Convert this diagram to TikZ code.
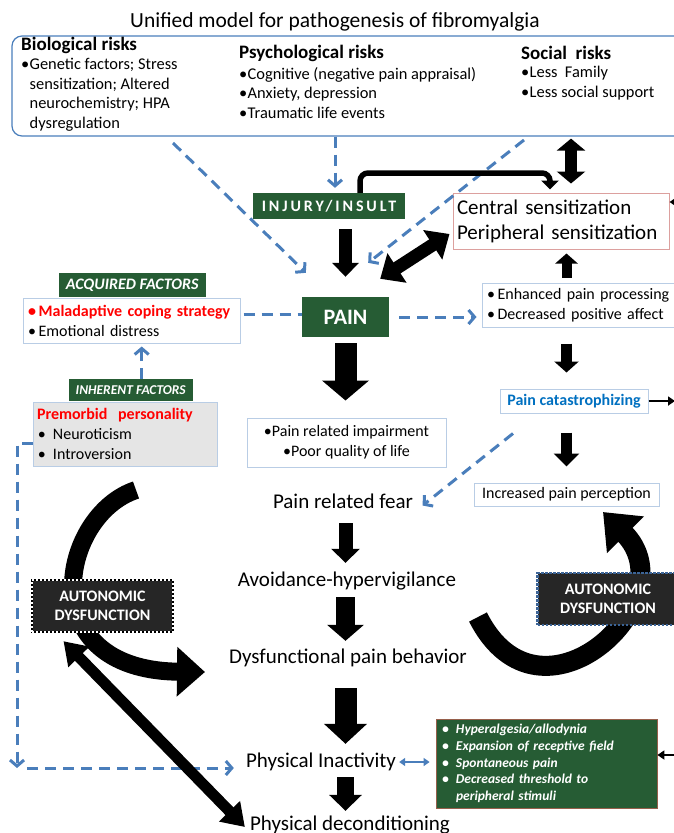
\documentclass[tikz,border=0pt]{standalone}
\usepackage{fontspec}
\setmainfont{Carlito}
\newfontfamily\spacedfont[LetterSpace=18]{Carlito}
\usepackage{tikz}
\usetikzlibrary{arrows.meta, positioning, backgrounds}
\definecolor{dashblue}{RGB}{74,126,187}
\definecolor{boxblue}{RGB}{185,205,229}
\definecolor{pinkline}{RGB}{220,160,158}
\definecolor{greenbg}{RGB}{38,92,52}
\definecolor{darkbg}{RGB}{38,38,38}
\definecolor{autoblue}{RGB}{60,100,150}
\definecolor{catblue}{RGB}{0,112,192}
\definecolor{graybg}{RGB}{229,229,229}
\definecolor{brownline}{RGB}{150,95,75}
\newcommand{\setfs}[2]{\fontsize{#1}{#2}\selectfont}
\newcommand{\bul}{\makebox[8.5pt][l]{\textbullet}}
\tikzstyle{greentag} = [rectangle, fill=greenbg, text=white, inner sep=0pt, text centered]
\tikzstyle{infobox} = [rectangle, draw=boxblue, line width=1pt, fill=white, inner sep=0pt]
\tikzstyle{stage} = [font=\setfs{21}{25}, inner sep=0pt, text height=14pt, text depth=4pt]
\tikzstyle{riskhead} = [anchor=west, inner sep=0pt, font=\bfseries\setfs{19}{22}]
\tikzstyle{risklist} = [anchor=north west, inner sep=0pt, align=left, font=\setfs{16.4}{19.7}]
\tikzstyle{autobox} = [rectangle, fill=darkbg, text=white, font=\bfseries\setfs{16}{19.5}, align=center, minimum width=141pt, minimum height=52pt, line width=2.4pt]
\tikzstyle{dasharrow} = [draw=dashblue, line width=3pt, dash pattern=on 11pt off 7pt, -{Straight Barb[length=6pt, width=14pt]}]
\tikzstyle{dashline} = [draw=dashblue, line width=3pt, dash pattern=on 11pt off 7pt]
\tikzstyle{thinarrow} = [line width=2pt, -{Triangle[length=7pt, width=9pt]}]
\tikzset{blockarrow/.style n args={3}{line width=#1, -{Triangle[width=#2, length=#3]}},
  blockdouble/.style n args={3}{line width=#1, {Triangle[width=#2, length=#3]}-{Triangle[width=#2, length=#3]}}}

\begin{document}
\begin{tikzpicture}[x=1pt, y=-1pt]
    \useasboundingbox (0,0) rectangle (673,833);

    % Title
    \node (title) at (335,22) [font=\setfs{21.5}{25}] {Unified model for pathogenesis of fibromyalgia};

    % Risk factors
    \node (risks) at (356,86) [rectangle, rounded corners=10pt, draw=dashblue, line width=1.2pt, minimum width=688pt, minimum height=100pt] {};
    \node (bioHead) at (21,45) [riskhead] {Biological risks};
    \node (bioList) at (21,58) [risklist] {\bul Genetic factors; Stress\\ \hspace*{8.5pt}sensitization; Altered\\ \hspace*{8.5pt}neurochemistry; HPA\\ \hspace*{8.5pt}dysregulation};
    \node (psyHead) at (239,53) [riskhead] {Psychological risks};
    \node (psyList) at (239,67) [risklist] {\bul Cognitive (negative pain appraisal)\\ \bul Anxiety, depression\\ \bul Traumatic life events};
    \node (socHead) at (521,53) [riskhead] {Social~ risks};
    \node (socList) at (521,66) [risklist] {\bul Less~ Family\\ \bul Less social support};
    \coordinate (bioOut) at (173,143);
    \coordinate (socOut) at (524,140);

    % Central chain
    \node (injury) at (329,206) [greentag, minimum width=152pt, minimum height=26pt, font=\spacedfont\bfseries\setfs{16}{19}] {INJURY/INSULT};
    \node (pain) at (345.5,317) [greentag, minimum width=87pt, minimum height=40pt, font=\bfseries\setfs{22}{26}] {PAIN};
    \node (impair) at (346.5,442.5) [infobox, minimum width=199pt, minimum height=49pt, align=center, font=\setfs{16}{20}] {\textbullet Pain related impairment\\ \textbullet Poor quality of life};
    \node (fear) at (343,503) [stage] {Pain related fear};
    \node (avoid) at (347,581) [stage] {Avoidance-hypervigilance};
    \node (dysf) at (348,658) [stage] {Dysfunctional pain behavior};
    \node (inact) at (321,762) [stage] {Physical Inactivity};
    \node (decond) at (350,825) [stage] {Physical deconditioning};

    % Right column
    \node (central) at (561,221) [rectangle, draw=pinkline, line width=1pt, fill=white, minimum width=216pt, minimum height=56pt, inner xsep=4pt, inner ysep=0pt, text width=208pt, align=left, font=\setfs{21}{25}] {Central sensitization\\Peripheral sensitization};
    \node (enhanced) at (586,305) [infobox, minimum width=208pt, minimum height=44pt, inner xsep=5pt, text width=198pt, align=left, font=\setfs{16}{20}] {\textbullet\,Enhanced pain processing\\ \textbullet\,Decreased positive affect};
    \node (cat) at (574,401) [infobox, minimum width=148pt, minimum height=24pt, font=\bfseries\setfs{16}{19}, text=catblue] {Pain catastrophizing};
    \node (incr) at (566.5,494.5) [infobox, minimum width=185pt, minimum height=23pt, font=\setfs{16}{19}] {Increased pain perception};
    \node (signs) at (546.5,763.5) [greentag, draw=brownline, line width=0.8pt, minimum width=221pt, minimum height=89pt, inner xsep=6pt, text width=209pt, align=left, font=\bfseries\itshape\setfs{13.5}{16.7}] {\makebox[14pt][l]{\textbullet}Hyperalgesia/allodynia\\ \makebox[14pt][l]{\textbullet}Expansion of receptive field\\ \makebox[14pt][l]{\textbullet}Spontaneous pain\\ \makebox[14pt][l]{\textbullet}Decreased threshold to\\ \hspace*{14pt}peripheral stimuli};

    % Left column
    \node (malad) at (131.5,320.5) [infobox, minimum width=217pt, minimum height=45pt, inner xsep=5pt, text width=207pt, align=left, font=\setfs{16}{20}] {{\color{red}\bfseries\textbullet\,Maladaptive coping strategy}\\ \textbullet\,Emotional distress};
    \node (acquired) [greentag, above right=0pt and 36pt of malad.north west, minimum width=147pt, minimum height=24pt, font=\bfseries\itshape\setfs{16}{19}] {ACQUIRED FACTORS};
    \node (premorbid) at (125,434) [infobox, fill=graybg, minimum width=184pt, minimum height=64pt, inner xsep=4pt, text width=176pt, align=left, font=\setfs{16}{20}] {{\color{red}\bfseries Premorbid~ personality}\\ \makebox[16pt][l]{\hspace{1pt}\textbullet}Neuroticism\\ \makebox[16pt][l]{\hspace{1pt}\textbullet}Introversion};
    \node (inherent) [greentag, above right=0pt and 36pt of premorbid.north west, minimum width=124pt, minimum height=22pt, font=\bfseries\itshape\setfs{13.5}{16}] {INHERENT FACTORS};

    % Autonomic dysfunction
    \node (leftauto) at (102.5,606) [autobox, draw=black, postaction={draw=white, line width=1.2pt, dash pattern=on 2pt off 2pt}] {AUTONOMIC\\DYSFUNCTION};
    \node (rightauto) at (608,599) [autobox, draw=autoblue, dash pattern=on 2.5pt off 1.5pt] {AUTONOMIC\\DYSFUNCTION};

    % Curved arrows
    \coordinate (lcStart) at (136,490);
    \coordinate (lcEnd) at (205,672);
    \coordinate (rcStart) at (478,617);
    \coordinate (rcEnd) at (603,512);
    \begin{scope}[on background layer]
        \draw[line width=18pt, -{Triangle[width=48pt, length=28pt]}] (lcStart) .. controls (60,515) and (30,670) .. (lcEnd);
        \draw[line width=20pt, -{Triangle[width=50pt, length=32pt]}] (rcStart) .. controls (540,740) and (690,600) .. (rcEnd);
    \end{scope}

    % Dashed arrows
    \draw[dasharrow] (bioOut) -- ([shift={(4pt,24pt)}]pain.north west);
    \draw[dasharrow] ([xshift=6pt]injury.north |- risks.south) -- ([xshift=6pt, yshift=5pt]injury.north);
    \draw[dasharrow] (socOut) -- ([shift={(-21pt,34pt)}]pain.north east);
    \draw[dasharrow, shorten <=10pt, shorten >=5pt] (pain.east) -- (pain.east -| enhanced.west);
    \draw[dashline, shorten <=3pt] ([yshift=6pt]malad.east) -- ([yshift=6pt]malad.east -| pain.west);
    \draw[dasharrow, shorten >=3pt] ([xshift=11pt]inherent.north) -- ([xshift=11pt]inherent.north |- malad.south);
    \coordinate (leftdown) at (17,768);
    \draw[dasharrow] ([yshift=-9pt]premorbid.west) -| (leftdown);
    \draw[dasharrow, shorten <=10pt, shorten >=12pt] (leftdown) -- (leftdown -| inact.west);
    \draw[dasharrow, shorten >=12pt] ([xshift=-61pt, yshift=-20pt]cat.south) -- ([yshift=-10pt]fear.east);

    % Block arrows
    \draw[blockarrow={13pt}{26pt}{14pt}, shorten <=10pt, shorten >=20pt] (pain.north |- injury.south) -- (pain.north);
    \draw[blockarrow={22pt}{46pt}{20pt}, shorten <=6pt, shorten >=17pt] (pain.south) -- (impair.north -| pain.south);
    \draw[blockarrow={14pt}{28pt}{14pt}, shorten <=11pt, shorten >=9pt] (fear.south -| pain) -- (avoid.north -| pain);
    \draw[blockarrow={19pt}{36pt}{16pt}, shorten <=7pt, shorten >=8pt] (avoid.south -| pain) -- (dysf.north -| pain);
    \draw[blockarrow={22pt}{42pt}{20pt}, shorten <=21pt, shorten >=9pt] (dysf.south -| pain) -- (inact.north -| pain);
    \draw[blockarrow={17pt}{32pt}{16pt}, shorten <=6pt, shorten >=5pt] (inact.south -| pain) -- (decond.north -| pain);
    \draw[blockarrow={11pt}{24pt}{11pt}, shorten <=16pt, shorten >=16pt] (enhanced.south -| incr) -- (cat.north -| incr);
    \draw[blockarrow={11pt}{25pt}{13pt}, shorten <=19pt, shorten >=16pt] (cat.south -| incr) -- (incr.north);
    \draw[blockarrow={10pt}{22pt}{10pt}, shorten <=5pt, shorten >=4pt] (enhanced.north -| incr) -- (central.south -| incr);
    \draw[blockdouble={12pt}{28pt}{12pt}, shorten <=2pt, shorten >=9pt] ([xshift=10pt]central.north |- risks.south) -- ([xshift=10pt]central.north);
    \draw[blockdouble={13pt}{34pt}{20pt}] ([shift={(-9pt,18pt)}]pain.north east) -- ([shift={(-3pt,-13pt)}]central.west);
    \draw[blockdouble={11pt}{28pt}{22pt}] ([shift={(-39pt,-8pt)}]leftauto.south) -- ([shift={(-5pt,-2pt)}]decond.west);

    % Feedback from injury
    \coordinate (elbowTop) at (455,173);
    \draw[line width=5.5pt, rounded corners=8pt, -{Triangle[width=17pt, length=9pt]}] ([xshift=31pt]injury.north) |- (elbowTop) -| ([xshift=-11pt, yshift=3pt]central.north);

    % Edge arrows
    \coordinate (edgeA) at (690,202);
    \coordinate (edgeB) at (675,401);
    \coordinate (edgeC) at (690,755);
    \draw[thinarrow] (edgeA) -- (edgeA -| central.east);
    \draw[thinarrow] (cat.east) -- (cat.east -| edgeB);
    \draw[thinarrow] (edgeC) -- (edgeC -| signs.east);
    \draw[dashblue, line width=2pt, {Triangle[length=6pt, width=8pt]}-{Triangle[length=6pt, width=8pt]}, shorten <=3pt, shorten >=6pt] (inact.east) -- (inact.east -| signs.west);
\end{tikzpicture}
\end{document}
